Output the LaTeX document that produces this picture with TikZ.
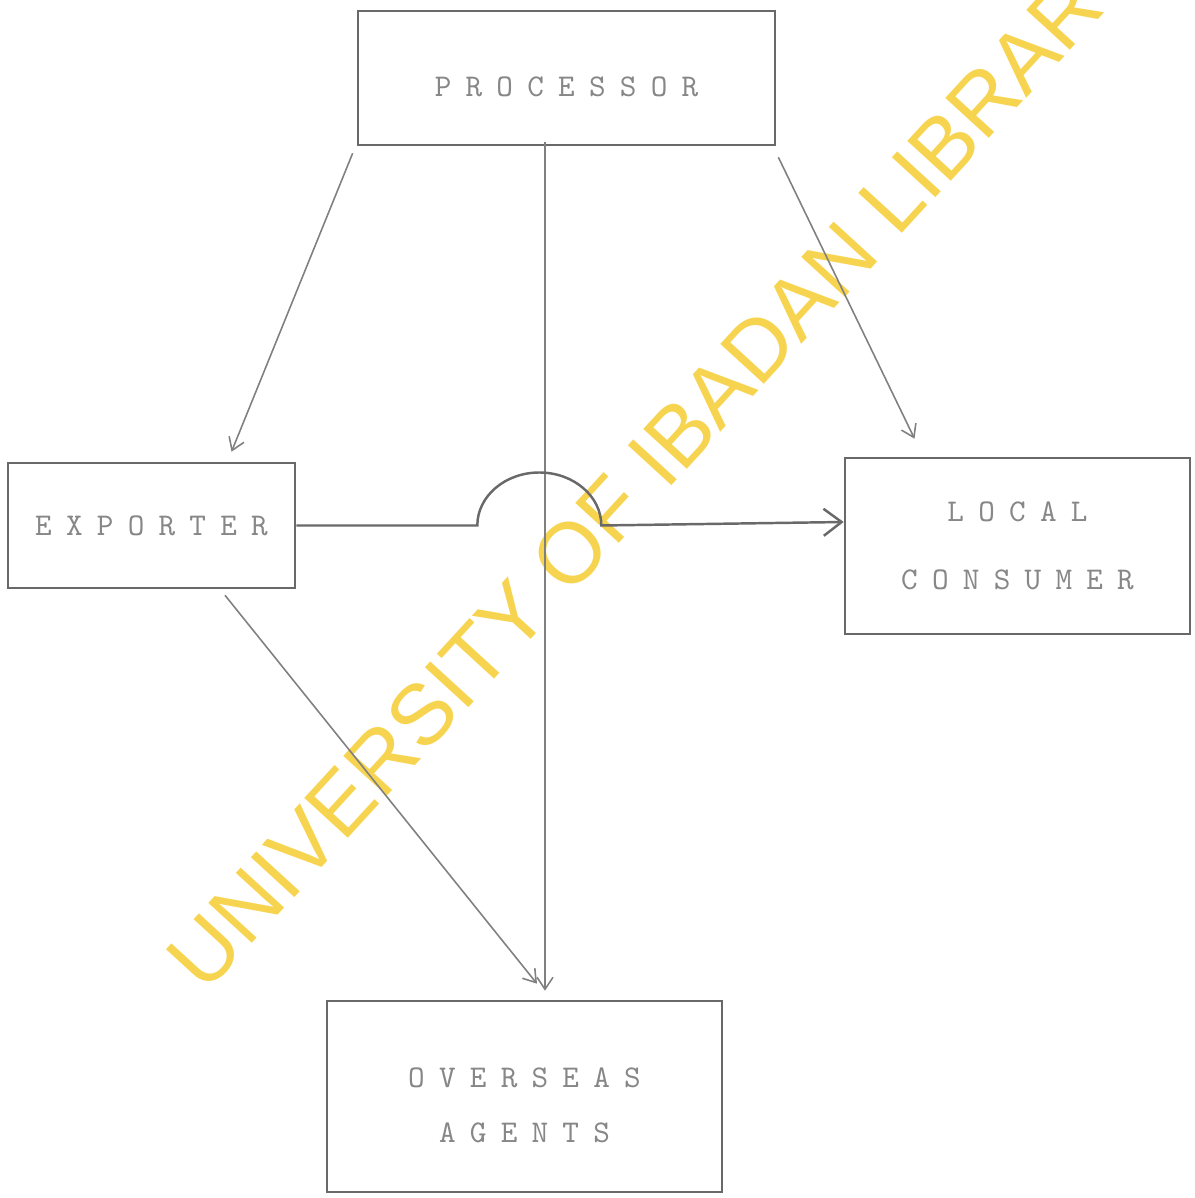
\documentclass[tikz,border=0pt]{standalone}
\usepackage{fontspec}
\setmainfont{Liberation Sans}
\newfontfamily\typed{lmmono10-regular}[Extension=.otf, LetterSpace=45]
\usetikzlibrary{arrows.meta}
\definecolor{ink}{RGB}{105,105,105}
\definecolor{typeink}{RGB}{135,135,135}
\definecolor{stamp}{RGB}{247,212,80}

\begin{document}
\begin{tikzpicture}[
        x=0.01cm, y=-0.01cm, % one unit = one pixel of the scan
        block/.style={draw=ink, line width=0.7pt, inner sep=0pt, align=center, text=typeink,
            font=\typed\fontsize{9}{10.8}\selectfont}, % boxes
        arr/.style={draw=ink!85, line width=0.45pt,
            -{Straight Barb[length=0.12cm, width=0.16cm]}}, % thin links
        bigarr/.style={draw=ink, line width=0.7pt,
            -{Straight Barb[length=0.18cm, width=0.27cm]}}, % link with the hump
        wmark/.style={text=stamp, font=\fontsize{24.4}{29}\selectfont, inner sep=0pt},
    ]
    \useasboundingbox (0,0) rectangle (1194,1198);
    \clip (0,0) rectangle (1194,1198);

    \node[wmark, rotate=47.5, anchor=base west] (stampline) at (205,995) {UNIVERSITY OF IBADAN LIBRARY};

    \node[block, minimum width=4.17cm, minimum height=1.34cm, text height=10.6pt] (proc) at (566.5,78) {PROCESSOR};
    \node[block, minimum width=2.87cm, minimum height=1.25cm] (exp) at (151.5,525.5) {EXPORTER};
    \node[block, minimum width=3.45cm, minimum height=1.76cm] (local) at (1017.5,546) {LOCAL\\[0.3cm] CONSUMER};
    \node[block, minimum width=3.95cm, minimum height=1.91cm, text height=26.2pt] (over) at (524.5,1096.5) {OVERSEAS\\[0.17cm] AGENTS};

    \draw[arr] ([shift={(-4,7)}]proc.south west) -- ([shift={(80,-10)}]exp.north);
    \draw[arr] ([shift={(2,11)}]proc.south east) -- ([shift={(-103,-18)}]local.north);
    \draw[arr] ([shift={(-21.5,-4)}]proc.south) -- ([shift={(20.5,-9)}]over.north);
    \draw[arr] ([shift={(73.5,6)}]exp.south) -- ([shift={(12.5,-16)}]over.north);
    \draw[bigarr] (exp.east) -- ++(181,0)
        arc[start angle=180, end angle=360, x radius=62, y radius=53]
        -- ([shift={(0,-24)}]local.west);
\end{tikzpicture}
\end{document}
